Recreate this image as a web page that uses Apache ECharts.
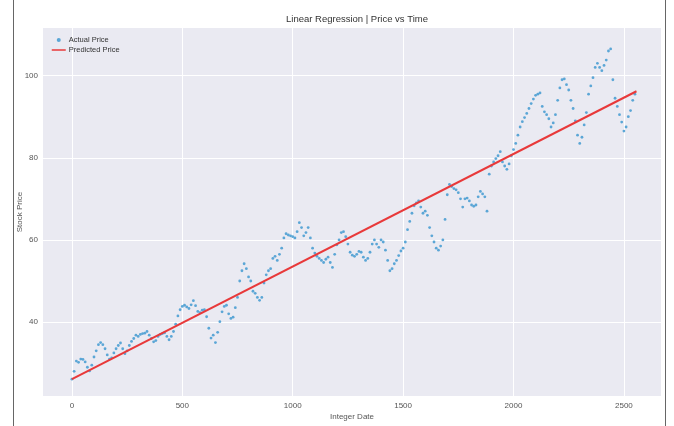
<!DOCTYPE html>
<html>
<head>
<meta charset="utf-8">
<script src="https://cdn.jsdelivr.net/npm/echarts@6/dist/echarts.min.js"></script>
<style>
  html, body { margin: 0; padding: 0; background: #ffffff; }
  #chart { width: 674px; height: 426px; }
</style>
</head>
<body>
<div id="chart"></div>
<script>
// Sampling step of the integer date axis (one price every 10 days)
const dayStep = 10;

// Observed closing prices, one per sample, starting at date 0
const actualPrice = [
  26.1, 28.0, 30.5, 30.2, 31.0, 30.9, 30.3, 29.0, 28.1, 29.5,
  31.5, 33.0, 34.5, 35.0, 34.5, 33.5, 32.0, 31.0, 31.3, 32.5,
  33.5, 34.3, 34.9, 33.5, 32.3, 33.0, 34.3, 35.3, 36.0, 36.8,
  36.5, 37.0, 37.2, 37.3, 37.7, 36.8, 36.0, 35.2, 35.5, 36.5,
  37.0, 37.2, 37.4, 36.5, 35.7, 36.5, 37.7, 39.5, 41.5, 43.0,
  43.8, 44.1, 43.7, 43.3, 44.2, 45.2, 44.0, 42.6, 42.3, 42.9,
  43.0, 41.3, 38.5, 36.1, 36.8, 35.0, 37.5, 40.1, 42.5, 43.8,
  44.1, 42.0, 40.9, 41.2, 43.5, 46.0, 50.0, 52.5, 54.2, 53.0,
  51.0, 50.0, 47.5, 47.0, 46.0, 45.3, 46.0, 49.5, 51.5, 52.5,
  53.0, 55.5, 56.0, 55.0, 56.5, 58.0, 60.5, 61.5, 61.2, 61.0,
  60.8, 60.5, 62.0, 64.2, 63.0, 61.0, 61.8, 63.0, 60.5, 58.0,
  56.8, 56.0, 55.5, 55.0, 54.5, 55.3, 55.8, 54.5, 53.3, 56.5,
  58.8, 60.0, 61.8, 62.0, 60.8, 59.0, 57.0, 56.3, 56.0, 56.5,
  57.2, 57.0, 55.8, 55.0, 55.5, 57.0, 59.0, 60.0, 59.0, 58.2,
  60.0, 59.5, 57.5, 55.0, 52.5, 53.0, 54.2, 55.0, 56.2, 57.3,
  58.0, 59.5, 62.5, 64.5, 66.5, 68.3, 69.0, 69.5, 68.0, 66.5,
  67.0, 66.0, 63.0, 61.0, 59.5, 58.0, 57.5, 58.5, 60.0, 65.0,
  71.0, 73.5, 73.0, 72.5, 72.2, 71.5, 70.0, 68.0, 70.0, 70.2,
  69.5, 68.5, 68.2, 68.5, 70.5, 71.8, 71.2, 70.5, 67.0, 76.0,
  78.0, 79.0, 79.8, 80.5, 81.5, 79.0, 78.0, 77.2, 78.5, 80.5,
  82.0, 83.5, 85.5, 87.5, 88.8, 89.8, 90.8, 92.0, 93.2, 94.3,
  95.2, 95.5, 95.8, 92.5, 91.2, 90.5, 89.5, 87.5, 88.5, 90.5,
  94.0, 97.0, 99.0, 99.2, 97.8, 96.5, 94.0, 92.0, 89.0, 85.5,
  83.5, 85.0, 88.0, 91.0, 95.5, 97.5, 99.5, 102.0, 103.0, 102.0,
  101.2, 102.5, 103.8, 106.0, 106.5, 99.0, 94.5, 92.5, 90.5, 88.7,
  86.5, 87.5, 90.0, 91.5, 94.0, 95.5
];

// Fitted regression line, first and last integer date
const fitDates = [0, 2557];
const fitPrice = [26.1, 96.2];

// Axis tick values
const xTicks = [0, 500, 1000, 1500, 2000, 2500];
const yTicks = [40, 60, 80, 100];

const scatterData = actualPrice.map((v, i) => [i * dayStep, v]);
const fitData = fitDates.map((d, i) => [d, fitPrice[i]]);

const chart = echarts.init(document.getElementById('chart'), null, { renderer: 'canvas' });

const labelFont = { fontFamily: 'Liberation Sans, Arial, sans-serif', fontSize: 8, color: '#555555' };
const plainNumber = v => String(v);

chart.setOption({
  animation: false,
  backgroundColor: '#ffffff',
  title: {
    text: 'Linear Regression | Price vs Time',
    left: 352, top: 9, textAlign: 'center',
    textStyle: { fontFamily: 'Liberation Sans, Arial, sans-serif', fontSize: 9.5, fontWeight: 'normal', color: '#333333' }
  },
  legend: {
    orient: 'vertical',
    left: 46, top: 31,
    itemGap: 2,
    itemWidth: 14, itemHeight: 4,
    textStyle: { fontFamily: 'Liberation Sans, Arial, sans-serif', fontSize: 7.5, color: '#333333', padding: [0, 0, 0, -2] },
    data: [
      { name: 'Actual Price', icon: 'circle', itemStyle: { color: '#4b9fd3' } },
      { name: 'Predicted Price', itemStyle: { opacity: 0 }, lineStyle: { color: '#e8393a', width: 1.5 } }
    ]
  },
  grid: {
    left: 43, right: 13, top: 28, bottom: 24,
    show: true, backgroundColor: '#eaeaf2', borderWidth: 0
  },
  xAxis: {
    type: 'value',
    min: -131, max: 2668,
    name: 'Integer Date', nameLocation: 'middle', nameGap: 17, nameMoveOverlap: false,
    nameTextStyle: labelFont,
    axisLine: { show: false },
    axisTick: { show: false, customValues: xTicks },
    axisLabel: Object.assign({ margin: 6, customValues: xTicks, formatter: plainNumber }, labelFont),
    splitLine: { show: true, lineStyle: { color: '#ffffff', width: 1 } }
  },
  yAxis: {
    type: 'value',
    min: 22.0, max: 111.6,
    name: 'Stock Price', nameLocation: 'middle', nameGap: 19, nameMoveOverlap: false,
    nameTextStyle: labelFont,
    axisLine: { show: false },
    axisTick: { show: false, customValues: yTicks },
    axisLabel: Object.assign({ margin: 5, customValues: yTicks, formatter: plainNumber }, labelFont),
    splitLine: { show: true, lineStyle: { color: '#ffffff', width: 1 } }
  },
  graphic: [
    { type: 'line', shape: { x1: 13.5, y1: 0, x2: 13.5, y2: 426 }, style: { stroke: '#666666', lineWidth: 1 } },
    { type: 'line', shape: { x1: 665.5, y1: 0, x2: 665.5, y2: 426 }, style: { stroke: '#666666', lineWidth: 1 } }
  ],
  series: [
    {
      name: 'Actual Price',
      type: 'scatter',
      data: scatterData,
      symbolSize: 2.8,
      itemStyle: { color: '#4b9fd3', opacity: 0.9 },
      z: 2
    },
    {
      name: 'Predicted Price',
      type: 'line',
      data: fitData,
      symbol: 'none',
      lineStyle: { color: '#e8393a', width: 2 },
      itemStyle: { color: '#e8393a' },
      z: 3
    }
  ]
});
</script>
</body>
</html>
